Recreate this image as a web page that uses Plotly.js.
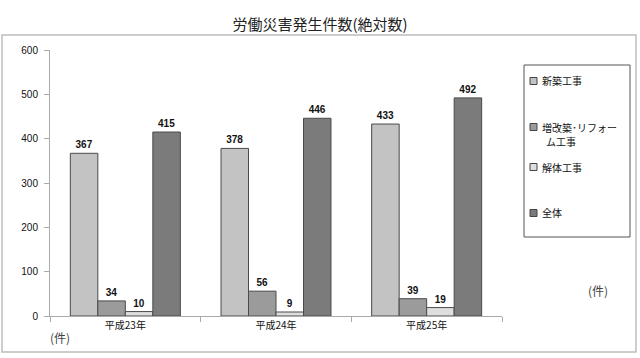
<!DOCTYPE html>
<html><head><meta charset="utf-8">
<script src="https://cdn.plot.ly/plotly-3.0.1.min.js"></script>
<style>html,body{margin:0;padding:0;background:#fff}#chart{width:640px;height:358px}</style>
</head><body><div id="chart"></div>
<script>
const categories = ['平成23年', '平成24年', '平成25年'];
const seriesNames = ['新築工事', '増改築・リフォーム工事', '解体工事', '全体'];
const legendLines = [['新築工事'], ['増改築･リフォー', 'ム工事'], ['解体工事'], ['全体']];
const shinchiku = [367, 378, 433];
const zoukaichiku = [34, 56, 39];
const kaitai = [10, 9, 19];
const zentai = [415, 446, 492];
const yTicks = [0, 100, 200, 300, 400, 500, 600];

const colors = ['#c3c3c3', '#9b9b9b', '#dedede', '#7b7b7b'];
const values = [shinchiku, zoukaichiku, kaitai, zentai];
const font = 'Liberation Sans, Arial, Noto Sans CJK JP, sans-serif';
const jfont = 'Noto Sans CJK JP, sans-serif';

const traces = values.map((v, i) => ({
  type: 'bar', x: categories, y: v, name: seriesNames[i],
  marker: {color: colors[i], line: {color: '#4a4a4a', width: 1}},
  text: v.map(String), textposition: 'outside', cliponaxis: false,
  textfont: {family: font, size: 10, color: '#111', weight: 'bold'},
  showlegend: false, hoverinfo: 'none'
}));

// paper coordinate helpers (plot area: x 50..502, y 50..316)
const W = 452, H = 266;
const px = x => (x - 50) / W;
const py = y => (316 - y) / H;

const shapes = [
  {type: 'rect', xref: 'paper', yref: 'paper', x0: px(2), x1: px(636), y0: py(352), y1: py(35),
   line: {color: '#bdbdbd', width: 1.5}},
  {type: 'rect', xref: 'paper', yref: 'paper', x0: px(524), x1: px(630), y0: py(237), y1: py(65),
   line: {color: '#555', width: 1}}
];
const annotations = [
  {xref: 'paper', yref: 'paper', x: px(60), y: py(337), text: '(件)', showarrow: false,
   xanchor: 'center', yanchor: 'middle', font: {family: jfont, size: 12, color: '#444'}},
  {xref: 'paper', yref: 'paper', x: px(598), y: py(290), text: '(件)', showarrow: false,
   xanchor: 'center', yanchor: 'middle', font: {family: jfont, size: 12, color: '#444'}}
];
const legendY = [81, 127, 167, 213];
legendLines.forEach((lines, i) => {
  const yy = legendY[i];
  shapes.push({type: 'rect', xref: 'paper', yref: 'paper', x0: px(530), x1: px(537),
    y0: py(yy + 3.5), y1: py(yy - 3.5), fillcolor: colors[i], line: {color: '#444', width: 1}});
  lines.forEach((lab, j) => {
    annotations.push({xref: 'paper', yref: 'paper', x: px(j === 0 ? 541 : 545), y: py(yy + j * 14),
      text: lab, showarrow: false, xanchor: 'left', yanchor: 'middle', align: 'left', borderpad: 0,
      font: {family: jfont, size: 10, color: '#111'}});
  });
});

const layout = {
  width: 640, height: 358,
  margin: {l: 50, r: 138, t: 50, b: 42},
  paper_bgcolor: '#fff', plot_bgcolor: '#fff',
  title: {text: '労働災害発生件数(絶対数)', x: 0.5, xref: 'container', xanchor: 'center', y: 0.945,
    yref: 'container', font: {family: jfont, size: 15, color: '#222'}},
  barmode: 'group', bargap: 0.27, bargroupgap: 0,
  xaxis: {type: 'category', showline: true, linecolor: '#aaa', linewidth: 1,
    ticks: 'outside', tickson: 'boundaries', ticklen: 5, tickcolor: '#aaa',
    tickfont: {family: jfont, size: 10, color: '#111'}, showgrid: false, zeroline: false,
    fixedrange: true},
  yaxis: {range: [0, 600], tickvals: yTicks, ticktext: yTicks.map(String),
    showline: true, linecolor: '#aaa', linewidth: 1, ticks: 'outside', ticklen: 5,
    tickcolor: '#aaa', tickfont: {family: font, size: 10, color: '#111'},
    showgrid: false, zeroline: false, ticklabelstandoff: 4},
  shapes: shapes, annotations: annotations,
  showlegend: false
};
Plotly.newPlot('chart', traces, layout, {staticPlot: true, displayModeBar: false});
</script></body></html>
